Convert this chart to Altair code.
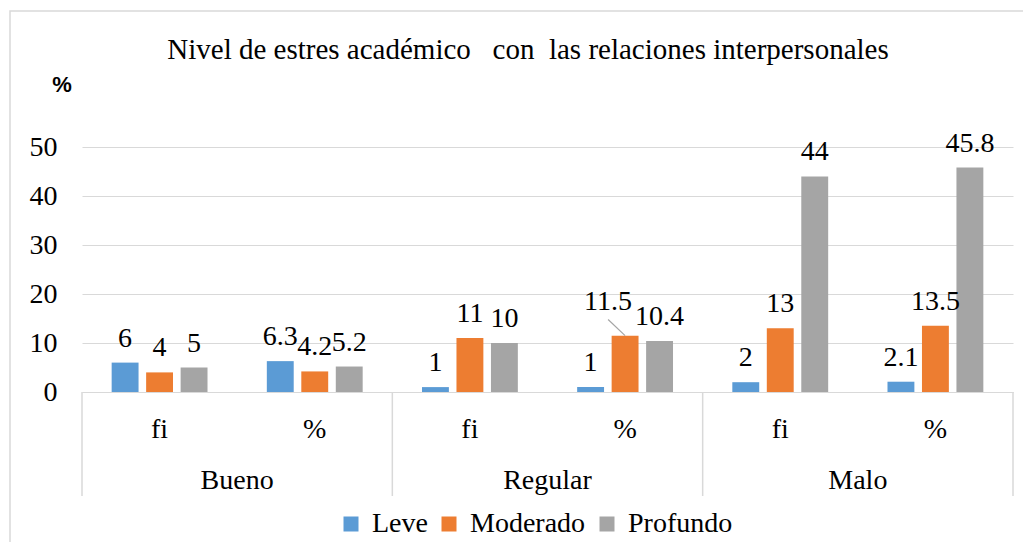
import altair as alt
import pandas as pd

# ---- data ----
groups = ["Bueno", "Regular", "Malo"]
subs = ["fi", "%"]
levels = ["Leve", "Moderado", "Profundo"]
leve = [6, 6.3, 1, 1, 2, 2.1]
moderado = [4, 4.2, 11, 11.5, 13, 13.5]
profundo = [5, 5.2, 10, 10.4, 44, 45.8]
colors = ["#5B9BD5", "#ED7D31", "#A5A5A5"]
y_ticks = [0, 10, 20, 30, 40, 50]
title_text = "Nivel de estres académico\u00a0\u00a0 con\u00a0 las relaciones interpersonales"
y_label = "%"

FONT = "Liberation Serif, Times New Roman, serif"
FS = 28
GRID = "#D9D9D9"

keys = [f"{g}|{s}" for g in groups for s in subs]
series = {"Leve": leve, "Moderado": moderado, "Profundo": profundo}
rows = []
for i, k in enumerate(keys):
    for lv in levels:
        rows.append({"key": k, "level": lv, "value": series[lv][i]})
df = pd.DataFrame(rows)
df_g = pd.DataFrame({"group": groups, "key": [f"{g}|fi" for g in groups]})
df_end = pd.DataFrame({"key": [keys[-1]]})
one = pd.DataFrame({"a": [0]})

x_enc = alt.X(
    "key:N",
    scale=alt.Scale(domain=keys, paddingInner=0, paddingOuter=0),
    axis=alt.Axis(
        title=None,
        labelExpr="split(datum.value, '|')[1]",
        labelFont=FONT,
        labelFontSize=FS,
        labelColor="black",
        labelBaseline="alphabetic",
        labelPadding=45,
        ticks=False,
        tickSize=0,
        domainColor=GRID,
        domainWidth=1,
        labelAngle=0,
    ),
)
xo_enc = alt.XOffset(
    "level:N",
    scale=alt.Scale(domain=levels, paddingInner=0.22, paddingOuter=0.86),
)
y_enc = alt.Y(
    "value:Q",
    scale=alt.Scale(domain=[0, 50], nice=False),
    axis=alt.Axis(
        title=None,
        values=y_ticks,
        domain=False,
        ticks=False,
        labelPadding=25,
        labelFont=FONT,
        labelFontSize=FS,
        labelColor="black",
        gridColor=GRID,
        gridWidth=1,
    ),
)

border = alt.Chart(one).mark_rect(
    fillOpacity=0, stroke=GRID, strokeWidth=1.5
).encode(
    x=alt.value(-72), x2=alt.value(1200), y=alt.value(-136), y2=alt.value(700)
)

bars = alt.Chart(df).mark_bar().encode(
    x=x_enc,
    xOffset=xo_enc,
    y=y_enc,
    color=alt.Color(
        "level:N",
        scale=alt.Scale(domain=levels, range=colors),
        legend=alt.Legend(
            title=None,
            orient="none",
            legendX=255,
            legendY=363,
            direction="horizontal",
            symbolType="square",
            symbolSize=225,
            symbolStrokeWidth=0,
            labelFont=FONT,
            labelFontSize=FS,
            labelColor="black",
            labelOffset=7,
            columnPadding=7,
            padding=0,
        ),
    ),
)

special = "datum.key == 'Regular|%' && datum.level == 'Moderado'"

labels = alt.Chart(df).transform_filter(f"!({special})").mark_text(
    baseline="alphabetic", dy=-16, font=FONT, fontSize=FS, color="black"
).encode(
    x=alt.X("key:N", scale=alt.Scale(domain=keys)),
    xOffset=alt.XOffset("level:N", scale=alt.Scale(domain=levels)),
    y="value:Q",
    text="value:Q",
)

label_special = alt.Chart(df).transform_filter(special).mark_text(
    baseline="alphabetic", dx=-17, dy=-26, font=FONT, fontSize=FS, color="black"
).encode(
    x=alt.X("key:N", scale=alt.Scale(domain=keys)),
    xOffset=alt.XOffset("level:N", scale=alt.Scale(domain=levels)),
    y="value:Q",
    text="value:Q",
)

leader = alt.Chart(df).transform_filter(special).mark_point(
    shape="M0,0L-1,-0.95", size=1156, filled=False, stroke="#A5A5A5",
    strokeWidth=1.2, opacity=1
).encode(
    x=alt.X("key:N", scale=alt.Scale(domain=keys)),
    xOffset=alt.XOffset("level:N", scale=alt.Scale(domain=levels)),
    y="value:Q",
)

dividers = alt.Chart(df_g).mark_rule(color=GRID, strokeWidth=1.5).encode(
    x=alt.X("key:N", bandPosition=0, scale=alt.Scale(domain=keys)),
    y=alt.value(245),
    y2=alt.value(349),
)
divider_end = alt.Chart(df_end).mark_rule(color=GRID, strokeWidth=1.5).encode(
    x=alt.X("key:N", bandPosition=1, scale=alt.Scale(domain=keys)),
    y=alt.value(245),
    y2=alt.value(349),
)

group_labels = alt.Chart(df_g).mark_text(
    baseline="alphabetic", font=FONT, fontSize=FS, color="black"
).encode(
    x=alt.X("key:N", bandPosition=1, scale=alt.Scale(domain=keys)),
    y=alt.value(342),
    text="group:N",
)

title = alt.Chart(one).mark_text(
    text=title_text, baseline="alphabetic", align="center",
    font=FONT, fontSize=29, color="black"
).encode(x=alt.value(446), y=alt.value(-88))

pct = alt.Chart(one).mark_text(
    text=y_label, baseline="alphabetic", align="center",
    font="Liberation Sans, Arial, sans-serif", fontSize=22, fontWeight="bold",
    color="black"
).encode(x=alt.value(-20), y=alt.value(-55))

chart = alt.layer(
    border, bars, labels, label_special, leader, dividers, divider_end,
    group_labels, title, pct
).properties(
    width=931,
    height=245,
    autosize="none",
    padding={"left": 74, "top": 139, "right": 10, "bottom": 150},
).configure_view(stroke=None)

chart.save("out.html", embed_options={"renderer": "svg", "actions": False})
